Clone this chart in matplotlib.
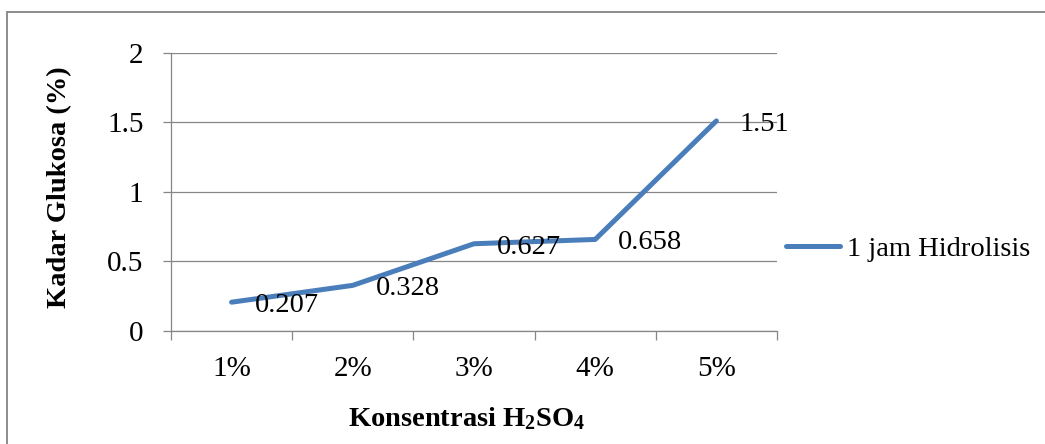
import matplotlib
matplotlib.use("Agg")
import matplotlib.pyplot as plt
from matplotlib.lines import Line2D

categories = ["1%", "2%", "3%", "4%", "5%"]
kadar = [0.207, 0.328, 0.627, 0.658, 1.51]
labels = ["0.207", "0.328", "0.627", "0.658", "1.51"]
yticks = [0, 0.5, 1, 1.5, 2]
ytick_labels = ["0", "0.5", "1", "1.5", "2"]
series_name = "1 jam Hidrolisis"

plt.rcParams["font.family"] = ["Liberation Serif", "DejaVu Serif"]
plt.rcParams["mathtext.fontset"] = "custom"
plt.rcParams["mathtext.rm"] = "Liberation Serif"
plt.rcParams["mathtext.bf"] = "Liberation Serif:bold"

GRID = "#868686"
BLUE = "#4A7EBB"

fig = plt.figure(figsize=(10.45, 4.44), dpi=100)
ax = fig.add_axes([171 / 1045, 1 - 331 / 444, 606 / 1045, (331 - 52.7) / 444])

x = list(range(len(categories)))
line, = ax.plot(x, kadar, color=BLUE, lw=3.6, solid_capstyle="round",
                solid_joinstyle="round", label=series_name)
for xi, yi, t in zip(x, kadar, labels):
    ax.annotate(t, (xi, yi), xytext=(16.5, -2.5), textcoords="offset points",
                ha="left", va="center", fontsize=20.5)

ax.set_xlim(-0.5, len(categories) - 0.5)
ax.set_ylim(0, 2)
ax.set_yticks(yticks)
ax.set_yticklabels(ytick_labels)
ax.set_xticks(x)
ax.set_xticklabels(categories)
ax.set_xticks([i - 0.5 for i in range(len(categories) + 1)], minor=True)

ax.grid(axis="y", color=GRID, lw=0.9)
ax.set_axisbelow(True)
for s in ("top", "right"):
    ax.spines[s].set_visible(False)
for s in ("left", "bottom"):
    ax.spines[s].set_color(GRID)
    ax.spines[s].set_linewidth(0.9)

ax.tick_params(axis="y", direction="out", length=5.8, width=0.9, color=GRID,
               pad=14, labelsize=21)
ax.tick_params(axis="x", which="major", length=0, pad=18, labelsize=21)
ax.tick_params(axis="x", which="minor", direction="out", length=6.5,
               width=0.9, color=GRID)

fig.text(60 / 1045, 1 - 187 / 444, "Kadar Glukosa (%)", rotation=90,
         ha="center", va="center", fontsize=20.5, fontweight="bold")
fig.text(467 / 1045, 1 - 419 / 444, r"Konsentrasi $\mathbf{H_2SO_4}$",
         ha="center", va="center", fontsize=20.5, fontweight="bold")

fig.legend(handles=[line], loc="center left", frameon=False, fontsize=20.5,
           bbox_to_anchor=(786 / 1045, 1 - 249 / 444), handlelength=1.9,
           handletextpad=0.25, borderpad=0, borderaxespad=0)

# outer chart border (only left/top visible in the crop)
fig.add_artist(Line2D([7 / 1045, 7 / 1045], [0, 1 - 12 / 444],
                      transform=fig.transFigure, color="#8c8c8c", lw=1.4))
fig.add_artist(Line2D([7 / 1045, 1], [1 - 12 / 444, 1 - 12 / 444],
                      transform=fig.transFigure, color="#8c8c8c", lw=1.4))

fig.savefig("out.png", dpi=100)
